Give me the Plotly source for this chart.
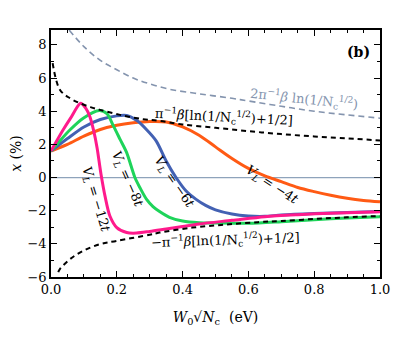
import plotly.graph_objects as go

# W0*sqrt(Nc) (eV) and x (%)
w_orange = [0.0, 0.05, 0.1, 0.15, 0.2, 0.25, 0.3, 0.35, 0.4, 0.45, 0.5, 0.55, 0.6, 0.65, 0.7, 0.75, 0.8, 0.85, 0.9, 0.95, 1.0]
x_orange = [1.6, 2.0, 2.5, 2.9, 3.15, 3.3, 3.38, 3.35, 3.05, 2.55, 1.85, 1.15, 0.55, 0.1, -0.25, -0.6, -0.85, -1.07, -1.25, -1.38, -1.46]

w_blue = [0.0, 0.05, 0.1, 0.15, 0.2, 0.23, 0.26, 0.29, 0.32, 0.35, 0.38, 0.41, 0.44, 0.47, 0.5, 0.55, 0.6, 0.65, 0.7, 0.8, 0.9, 1.0]
x_blue = [1.6, 2.35, 3.05, 3.5, 3.72, 3.74, 3.45, 2.9, 2.2, 1.0, 0.0, -0.8, -1.3, -1.68, -1.95, -2.2, -2.32, -2.34, -2.26, -2.17, -2.11, -2.05]

w_green = [0.0, 0.058, 0.098, 0.147, 0.17, 0.19, 0.21, 0.23, 0.255, 0.27, 0.29, 0.31, 0.33, 0.36, 0.4, 0.45, 0.5, 0.6, 0.7, 0.8, 0.9, 1.0]
x_green = [1.6, 2.88, 3.58, 4.04, 3.85, 3.1, 2.3, 1.5, 0.0, -0.6, -1.3, -1.75, -2.05, -2.4, -2.62, -2.72, -2.74, -2.76, -2.66, -2.54, -2.44, -2.36]

w_pink = [0.0, 0.037, 0.06, 0.09, 0.105, 0.118, 0.13, 0.14, 0.152, 0.165, 0.179, 0.2, 0.23, 0.26, 0.3, 0.35, 0.4, 0.45, 0.55, 0.65, 0.75, 0.85, 1.0]
x_pink = [1.6, 2.88, 3.6, 4.48, 4.2, 3.68, 2.8, 1.8, 0.2, -1.2, -2.32, -3.02, -3.32, -3.35, -3.25, -3.1, -2.95, -2.8, -2.58, -2.36, -2.24, -2.15, -2.06]

w_upper = [0.005, 0.027, 0.058, 0.088, 0.12, 0.149, 0.21, 0.28, 0.33, 0.4, 0.5, 0.6, 0.7, 0.8, 0.9, 1.0]
x_upper = [6.9, 5.3, 4.78, 4.48, 4.25, 4.08, 3.78, 3.52, 3.42, 3.2, 3.0, 2.8, 2.62, 2.48, 2.36, 2.24]

w_lower = [0.022, 0.027, 0.058, 0.098, 0.149, 0.2, 0.3, 0.33, 0.43, 0.53, 0.63, 0.7, 0.8, 0.9, 1.0]
x_lower = [-5.7, -5.52, -4.92, -4.42, -4.02, -3.82, -3.45, -3.32, -3.02, -2.84, -2.69, -2.62, -2.5, -2.4, -2.32]

w_gray = [0.055, 0.1, 0.149, 0.2, 0.25, 0.3, 0.362, 0.45, 0.55, 0.6, 0.7, 0.8, 0.9, 1.0]
x_gray = [8.9, 7.9, 7.08, 6.5, 6.0, 5.65, 5.32, 5.05, 4.78, 4.62, 4.3, 4.0, 3.78, 3.58]

SERIF = "DejaVu Serif, serif"

fig = go.Figure()

# zero line
fig.add_trace(go.Scatter(x=[0, 1], y=[0, 0], mode="lines",
                         line=dict(color="#8ea3bb", width=1.3), hoverinfo="skip"))

for w, x, c in [
    (w_orange, x_orange, "#ff5a14"),
    (w_blue, x_blue, "#4361b3"),
    (w_green, x_green, "#1ed45a"),
    (w_pink, x_pink, "#ff1a8c"),
]:
    fig.add_trace(go.Scatter(x=w, y=x, mode="lines",
                             line=dict(color=c, width=3, shape="spline", smoothing=0.8)))

fig.add_trace(go.Scatter(x=w_gray, y=x_gray, mode="lines",
                         line=dict(color="#8494ae", width=1.6, dash="6px,4px", shape="spline")))
fig.add_trace(go.Scatter(x=w_upper, y=x_upper, mode="lines",
                         line=dict(color="black", width=2, dash="5px,4px", shape="spline")))
fig.add_trace(go.Scatter(x=w_lower, y=x_lower, mode="lines",
                         line=dict(color="black", width=2, dash="5px,4px", shape="spline")))

ann = [
    dict(x=0.935, y=7.56, text="<b>(b)</b>", textangle=0, color="black", size=14),
    dict(x=0.77, y=4.72, text="2π<sup>−1</sup><i>β</i> ln(1/N<sub>c</sub><sup>1/2</sup>)",
         textangle=6, color="#8494ae", size=13),
    dict(x=0.525, y=3.68, text="π<sup>−1</sup><i>β</i>[ln(1/N<sub>c</sub><sup>1/2</sup>)+1/2]",
         textangle=3, color="black", size=13),
    dict(x=0.53, y=-3.75, text="−π<sup>−1</sup><i>β</i>[ln(1/N<sub>c</sub><sup>1/2</sup>)+1/2]",
         textangle=-2, color="black", size=13),
    dict(x=0.134, y=-1.35, text="<i>V<sub>L</sub></i> = −12<i>t</i>", textangle=73, color="black", size=13),
    dict(x=0.231, y=-0.12, text="<i>V<sub>L</sub></i> = −8<i>t</i>", textangle=66, color="black", size=13),
    dict(x=0.374, y=-0.3, text="<i>V<sub>L</sub></i> = −6<i>t</i>", textangle=55, color="black", size=13),
    dict(x=0.672, y=-0.48, text="<i>V<sub>L</sub></i> = −4<i>t</i>", textangle=33, color="black", size=13),
]
for a in ann:
    fig.add_annotation(x=a["x"], y=a["y"], text=a["text"], textangle=a["textangle"],
                       showarrow=False, font=dict(family=SERIF, size=a["size"], color=a["color"]))

axis_common = dict(
    showline=True, linecolor="black", linewidth=1.5, mirror="allticks",
    ticks="inside", ticklen=6, tickwidth=1.2, tickcolor="black",
    showgrid=False, zeroline=False, automargin=False,
    tickfont=dict(family=SERIF, size=13, color="black"),
)

# page body has an 8px margin, so the figure is shifted by that much
fig.update_layout(
    width=385, height=323,
    margin=dict(l=43, r=13, t=22, b=54),
    paper_bgcolor="white", plot_bgcolor="white",
    showlegend=False,
    xaxis=dict(range=[0, 1.0], tick0=0, dtick=0.2, tickformat=".1f",
               minor=dict(ticks="inside", ticklen=3, dtick=0.05, tickcolor="black"),
               title=dict(text="<i>W</i><sub>0</sub>√<i>N</i><sub>c</sub>  (eV)",
                          font=dict(family=SERIF, size=14, color="black"), standoff=16),
               **axis_common),
    yaxis=dict(range=[-6, 8.9], tick0=-6, dtick=2,
               minor=dict(ticks="inside", ticklen=3, dtick=1, tickcolor="black"),
               title=dict(text="<i>x</i> (%)", font=dict(family=SERIF, size=14, color="black"),
                          standoff=12),
               **axis_common),
)

fig.write_html("out.html")
